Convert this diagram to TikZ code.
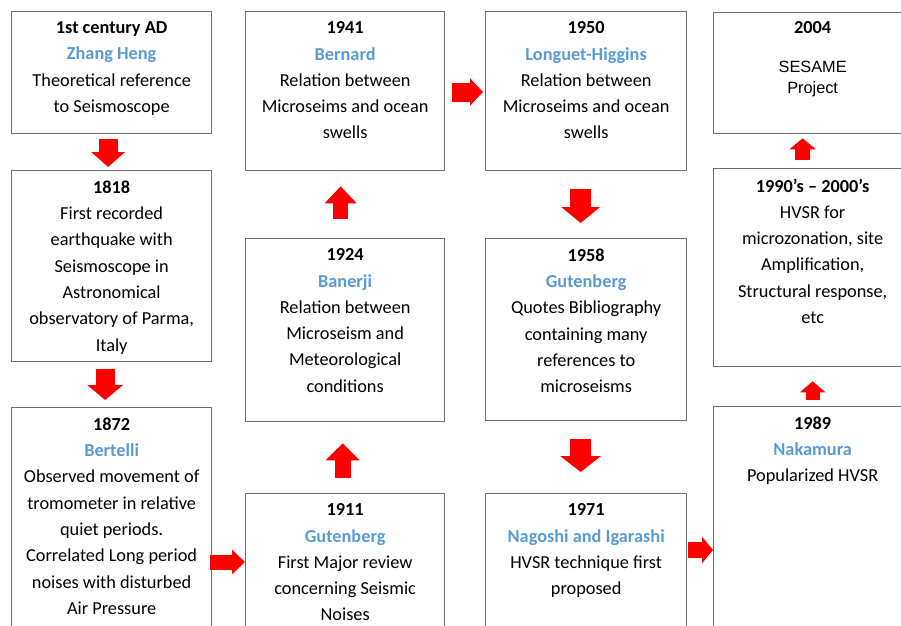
\documentclass[tikz,border=0pt]{standalone}
\usepackage{fontspec}
\setmainfont{Carlito}
\newfontfamily\arialf{Liberation Sans}
\usetikzlibrary{arrows.meta}
\definecolor{nameblue}{RGB}{91,155,213}
\definecolor{boxgray}{RGB}{110,110,110}
\definecolor{arrred}{RGB}{255,0,0}
\newcommand\who[1]{\textcolor{nameblue}{\textbf{#1}}}
\begin{document}
\begin{tikzpicture}[x=1pt,y=-1pt,
  box/.style={draw=boxgray, line width=1.3pt, anchor=north west, inner sep=0pt},
  txt/.style={anchor=north, align=center, font=\fontsize{18.3}{26.3}\selectfont, inner sep=0pt},
  flow/.style n args={3}{draw=arrred, line width=#1, -{Triangle[length=#3,width=#2]}},
]
\clip (0,0) rectangle (901,625);
\fill[white] (0,0) rectangle (901,625);

% column 1
\node[box, minimum width=200pt, minimum height=122pt] (A) at (11,11) {};
\node[box, minimum width=200pt, minimum height=191pt] (B) at (11,170) {};
\node[box, minimum width=200pt, minimum height=240pt] (C) at (11,407) {};
% column 2
\node[box, minimum width=199pt, minimum height=159pt] (D) at (245,11) {};
\node[box, minimum width=199pt, minimum height=183pt] (E) at (245,238) {};
\node[box, minimum width=199pt, minimum height=150pt] (F) at (245,493) {};
% column 3
\node[box, minimum width=201pt, minimum height=159pt] (G) at (485,11) {};
\node[box, minimum width=201pt, minimum height=182pt] (H) at (485,238) {};
\node[box, minimum width=201pt, minimum height=150pt] (I) at (485,493) {};
% column 4
\node[box, minimum width=198pt, minimum height=121pt] (J) at (713,12) {};
\node[box, minimum width=198pt, minimum height=198pt] (K) at (713,168) {};
\node[box, minimum width=198pt, minimum height=240pt] (L) at (713,406) {};

% texts
\node[txt] (At) at ([yshift=-10.5pt]A.north) {\textbf{1st century AD}\\ \who{Zhang Heng}\\ Theoretical reference\\ to Seismoscope};
\node[txt] (Bt) at ([yshift=-10.5pt]B.north) {\textbf{1818}\\ First recorded\\ earthquake with\\ Seismoscope in\\ Astronomical\\ observatory of Parma,\\ Italy};
\node[txt] (Ct) at ([yshift=-10.5pt]C.north) {\textbf{1872}\\ \who{Bertelli}\\ Observed movement of\\ tromometer in relative\\ quiet periods.\\ Correlated Long period\\ noises with disturbed\\ Air Pressure};
\node[txt] (Dt) at ([yshift=-10.5pt]D.north) {\textbf{1941}\\ \who{Bernard}\\ Relation between\\ Microseims and ocean\\ swells};
\node[txt] (Et) at ([yshift=-10.5pt]E.north) {\textbf{1924}\\ \who{Banerji}\\ Relation between\\ Microseism and\\ Meteorological\\ conditions};
\node[txt] (Ft) at ([yshift=-10.5pt]F.north) {\textbf{1911}\\ \who{Gutenberg}\\ First Major review\\ concerning Seismic\\ Noises};
\node[txt] (Gt) at ([yshift=-10.5pt]G.north) {\textbf{1950}\\ \who{Longuet-Higgins}\\ Relation between\\ Microseims and ocean\\ swells};
\node[txt] (Ht) at ([yshift=-10.5pt]H.north) {\textbf{1958}\\ \who{Gutenberg}\\ Quotes Bibliography\\ containing many\\ references to\\ microseisms};
\node[txt] (It) at ([yshift=-10.5pt]I.north) {\textbf{1971}\\ \who{Nagoshi and Igarashi}\\ HVSR technique first\\ proposed};
\node[txt] (Jt) at ([yshift=-9.5pt]J.north) {\textbf{2004}};
\node[txt, font=\arialf\fontsize{16.3}{21}\selectfont] (Js) at ([yshift=-49pt]J.north) {SESAME\\ Project};
\node[txt] (Kt) at ([yshift=-10.5pt]K.north) {\textbf{1990’s – 2000’s}\\ HVSR for\\ microzonation, site\\ Amplification,\\ Structural response,\\ etc};
\node[txt] (Lt) at ([yshift=-10.5pt]L.north) {\textbf{1989}\\ \who{Nakamura}\\ Popularized HVSR};

% arrows
\draw[flow={19pt}{33pt}{15pt}, shorten <=5pt, shorten >=3pt] ([xshift=-3.5pt]A.south) -- ([xshift=-3.5pt]B.north);
\draw[flow={19pt}{35pt}{15pt}, shorten <=7pt, shorten >=7pt] ([xshift=-6.5pt]B.south) -- ([xshift=-6.5pt]C.north);
\draw[flow={15pt}{24pt}{13pt}, shorten <=-2pt] ([yshift=-155pt]C.north east) -- ([yshift=-69pt]F.north west);
\draw[flow={16pt}{33pt}{17pt}, shorten <=15pt, shorten >=21pt] ([xshift=-2.5pt]F.north) -- ([xshift=-2.5pt]E.south);
\draw[flow={15pt}{31pt}{17pt}, shorten <=19pt, shorten >=15pt] ([xshift=-4.5pt]E.north) -- ([xshift=-4.5pt]D.south);
\draw[flow={19pt}{27pt}{13pt}, shorten <=7pt, shorten >=2pt] ([yshift=-81pt]D.north east) -- ([yshift=-81pt]G.north west);
\draw[flow={21pt}{38pt}{16pt}, shorten <=18pt, shorten >=15pt] ([xshift=-5.5pt]G.south) -- ([xshift=-5.5pt]H.north);
\draw[flow={21pt}{40pt}{16pt}, shorten <=18pt, shorten >=21pt] ([xshift=-5.5pt]H.south) -- ([xshift=-5.5pt]I.north);
\draw[flow={16pt}{26pt}{11pt}, shorten <=1pt] ([yshift=-57pt]I.north east) -- ([yshift=-144pt]L.north west);
\draw[flow={14pt}{25pt}{11pt}, shorten <=6pt, shorten >=14pt] (L.north) -- (K.south);
\draw[flow={15pt}{26pt}{11pt}, shorten <=8pt, shorten >=4pt] ([xshift=-10pt]K.north) -- ([xshift=-10pt]J.south);
\end{tikzpicture}
\end{document}
